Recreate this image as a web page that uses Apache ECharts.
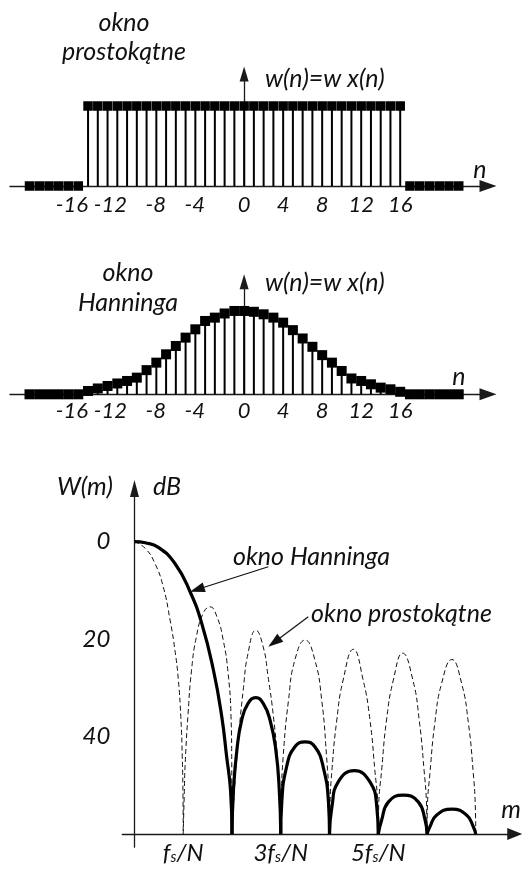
<!DOCTYPE html>
<html><head><meta charset="utf-8">
<script src="https://cdn.jsdelivr.net/npm/echarts@6/dist/echarts.min.js"></script>
<style>html,body{margin:0;padding:0;background:#fff}#c{width:525px;height:869px}</style>
</head><body><div id="c"></div><script>
// ---- data ----
const nValues = [-22,-21,-20,-19,-18,-17,-16,-15,-14,-13,-12,-11,-10,-9,-8,-7,-6,-5,-4,-3,-2,-1,0,1,2,3,4,5,6,7,8,9,10,11,12,13,14,15,16,17,18,19,20,21,22];
const rectWindow = [0,0,0,0,0,0, 1,1,1,1,1,1,1,1,1,1,1,1,1,1,1,1,1,1,1,1,1,1,1,1,1,1,1,1,1,1,1,1,1, 0,0,0,0,0,0];
const hanningWindow = [0,0,0,0,0,0, 0.04,0.07,0.10,0.13,0.16,0.20,0.29,0.38,0.48,0.58,0.68,0.78,0.88,0.92,0.97,1.00,1.00,0.99,0.96,0.92,0.86,0.77,0.67,0.57,0.47,0.38,0.28,0.19,0.16,0.12,0.08,0.06,0.03, 0,0,0,0,0,0];
const nTickValuesNeg = [-16,-12,-8,-4];
const nTickLabelsNeg = ['-16','-12','-8','-4'];
const nTickValuesPos = [0,4,8,12,16];
const nTickLabelsPos = ['0','4','8','12','16'];
const dbTickValues = [0,20,40];
const dbTickLabels = ['0','20','40'];
const mTickValues = [1,3,5];
const mTickLabels = [['f','s','/N'],['3f','s','/N'],['5f','s','/N']];
// spectrum magnitude (attenuation in dB) read along each lobe, m in units of fs/N
const hanningLobes = [
  [[0,0],[0.22,0.25],[0.49,1.2],[0.83,4.5],[1.14,10.3],[1.38,16.8],[1.62,26.4],[1.79,35.9],[1.89,44.1],[1.97,51.0],[2.0,60]],
  [[2.0,60],[2.03,51],[2.10,42.8],[2.20,36.6],[2.33,33.2],[2.49,32.0],[2.64,33.2],[2.78,36.6],[2.90,42.8],[2.97,51],[3.0,60]],
  [[3.0,60],[3.02,53.7],[3.12,46.2],[3.29,42.1],[3.50,41.1],[3.70,42.1],[3.87,46.2],[3.98,53.7],[4.0,60]],
  [[4.0,60],[4.05,54.4],[4.18,49.3],[4.51,47.0],[4.83,49.3],[4.97,54.4],[5.0,60]],
  [[5.0,60],[5.07,57.1],[5.21,53.4],[5.51,52.0],[5.82,53.4],[5.96,57.1],[6.0,60]],
  [[6.0,60],[6.06,58.5],[6.20,56.1],[6.51,54.9],[6.81,56.1],[6.95,58.5],[7.0,60]]
];
const rectLobes = [
  [[0,0],[0.22,1.4],[0.42,4.5],[0.59,9.3],[0.73,16.1],[0.83,22.3],[0.90,28.4],[0.95,35.9],[0.98,44.1],[0.995,52.3],[1.0,60]],
  [[1.0,60],[1.02,52],[1.04,45.5],[1.10,35.2],[1.17,26.4],[1.27,19.5],[1.41,14.7],[1.55,13.4],[1.69,15.4],[1.82,20.2],[1.92,27.0],[1.98,35.9],[1.995,45.5],[2.0,60]],
  [[2.0,60],[2.05,51.0],[2.13,40.7],[2.23,30.5],[2.33,22.9],[2.49,18.2],[2.64,21.6],[2.74,27.7],[2.85,35.9],[2.94,45.5],[2.99,54.4],[3.0,60]],
  [[3.0,60],[3.01,53],[3.05,44.1],[3.16,32.5],[3.29,24.3],[3.50,20.2],[3.70,24.3],[3.84,32.5],[3.94,44.1],[3.99,53],[4.0,60]],
  [[4.0,60],[4.01,54],[4.05,46.9],[4.15,36.6],[4.28,28.4],[4.49,22.1],[4.69,28.4],[4.83,36.6],[4.93,46.9],[4.99,54],[5.0,60]],
  [[5.0,60],[5.01,54],[5.07,46.9],[5.17,36.6],[5.31,28.4],[5.50,22.9],[5.71,28.4],[5.84,36.6],[5.94,46.9],[5.99,54],[6.0,60]],
  [[6.0,60],[6.01,54],[6.06,47.6],[6.16,37.3],[6.30,29.1],[6.51,24.2],[6.71,29.1],[6.85,37.3],[6.95,47.6],[6.99,54],[7.0,60]]
];
// annotation arrows (start, end) in data coords of the spectrum plot
const hanningArrow = [[2.745,5.17],[1.284,9.83]];
const rectArrow = [[3.565,15.43],[2.868,20.66]];

// ---- chart ----
const FONT = 'Lato';
const AX = '#1a1a1a';
const chart = echarts.init(document.getElementById('c'), null, {renderer:'canvas'});

function lookup(vals, labels){
  return function(v){ const i = vals.indexOf(v); return i < 0 ? '' : labels[i]; };
}
const tickStyle = {fontFamily:FONT, fontStyle:'italic', fontSize:22, color:'#111', hideOverlap:false};
function nXAxisMain(gi){
  return {type:'value', gridIndex:gi, position:'bottom', min:-24, max:25, splitLine:{show:false},
    axisLine:{onZero:true, lineStyle:{color:AX,width:1.3}, symbol:['none','triangle'], symbolSize:[12,17]},
    axisTick:{show:false},
    axisLabel:Object.assign({customValues:nTickValuesPos, formatter:lookup(nTickValuesPos,nTickLabelsPos), margin: gi===0 ? 8 : 6}, tickStyle)};
}
function nXAxisNeg(gi){
  return {type:'value', gridIndex:gi, position:'bottom', min:-24, max:25, splitLine:{show:false},
    axisLine:{show:false, onZero:true}, axisTick:{show:false},
    axisLabel:Object.assign({customValues:nTickValuesNeg, formatter:lookup(nTickValuesNeg,nTickLabelsNeg), align:'right', margin: gi===0 ? 8 : 6}, tickStyle)};
}
function nYAxis(gi,max){
  return {type:'value', gridIndex:gi, min:0, max:max, splitLine:{show:false},
    axisLine:{onZero:true, lineStyle:{color:AX,width:1.3}, symbol:['none','triangle'], symbolSize:[9,15]},
    axisTick:{show:false}, axisLabel:{show:false}};
}
function stemSeries(xi, yi, vals, sz){
  const d = nValues.map((n,i)=>[n, vals[i]]);
  return [
    {type:'bar', xAxisIndex:xi, yAxisIndex:yi, data:d, barWidth:2, itemStyle:{color:'#000'}, silent:true, z:2},
    {type:'scatter', xAxisIndex:xi, yAxisIndex:yi, data:d, symbol:'rect', symbolSize:sz, itemStyle:{color:'#000', opacity:1}, silent:true, z:3}
  ];
}
const series = [];
series.push(...stemSeries(0, 0, rectWindow, 9.5));
series.push(...stemSeries(2, 1, hanningWindow, 10));
rectLobes.forEach((lobe,i)=>{
  series.push({type:'line', xAxisIndex:4, yAxisIndex:2, data:lobe, smooth:0.5, showSymbol:false, silent:true,
    lineStyle:{color:'#111', width:1, type:[5,3]}, z:3,
    markLine: i===0 ? {silent:true, symbol:['none','triangle'], symbolSize:[10,15], label:{show:false},
      lineStyle:{color:'#111', width:1.2, type:'solid'},
      data:[[{coord:rectArrow[0]},{coord:rectArrow[1]}]]} : undefined});
});
hanningLobes.forEach((lobe,i)=>{
  series.push({type:'line', xAxisIndex:4, yAxisIndex:2, data:lobe, smooth:0.5, showSymbol:false, silent:true,
    lineStyle:{color:'#000', width:3.2}, z:4,
    markLine: i===0 ? {silent:true, symbol:['none','triangle'], symbolSize:[10,15], label:{show:false},
      lineStyle:{color:'#111', width:1.2, type:'solid'},
      data:[[{coord:hanningArrow[0]},{coord:hanningArrow[1]}]]} : undefined});
});

const tfont = 'italic 25px ' + FONT;
function txt(text,x,y,align){
  return {type:'text', x:x, y:y, style:{text:text, font:tfont, fill:'#111', align:align||'center', verticalAlign:'middle'}, silent:true, z:10};
}

const option = {
  animation:false,
  backgroundColor:'#fff',
  grid:[
    {left:10, right:37, top:74, bottom:683},
    {left:10, right:37, top:281.8, bottom:474.7},
    {left:122.3, right:10.25, top:488.4, bottom:21.8}
  ],
  xAxis:[
    nXAxisMain(0), nXAxisNeg(0), nXAxisMain(1), nXAxisNeg(1),
    {type:'value', gridIndex:2, min:-0.25, max:7.8, splitLine:{show:false}, offset:-13.2,
      axisLine:{onZero:false, lineStyle:{color:AX,width:1.3}, symbol:['none','triangle'], symbolSize:[12,15]},
      axisTick:{show:false},
      axisLabel:{customValues:mTickValues, margin:7, hideOverlap:false,
        formatter:function(v){const i=mTickValues.indexOf(v); if(i<0) return ''; const p=mTickLabels[i]; return '{i|'+p[0]+'}{s|'+p[1]+'}{i|'+p[2]+'}';},
        rich:{i:{fontFamily:FONT,fontStyle:'italic',fontSize:24,color:'#111'},
              s:{fontFamily:FONT,fontStyle:'italic',fontSize:15,color:'#111',verticalAlign:'bottom'}}}}
  ],
  yAxis:[
    nYAxis(0,1.4), nYAxis(1,1.35),
    {type:'value', gridIndex:2, inverse:true, min:-10.9, max:62.7, splitLine:{show:false},
      axisLine:{onZero:true, lineStyle:{color:AX,width:1.3}, symbol:['none','triangle'], symbolSize:[9,17]},
      axisTick:{show:false},
      axisLabel:{customValues:dbTickValues, margin:12, hideOverlap:false,
        formatter:lookup(dbTickValues, dbTickLabels),
        fontFamily:FONT, fontStyle:'italic', fontSize:24, color:'#111'}}
  ],
  series:series,
  graphic:[
    txt('okno',124,23), txt('prostokątne',124,52), txt('w(n)=w x(n)',265,79,'left'), txt('n',480,170),
    txt('okno',128,273), txt('Hanninga',128,303), txt('w(n)=w x(n)',265,283,'left'), txt('n',459,377),
    txt('W(m)',85,487), txt('dB',167,487), txt('m',511,810),
    txt('okno Hanninga',311.5,557), txt('okno prostokątne',401.5,614)
  ]
};
chart.setOption(option);
</script></body></html>
